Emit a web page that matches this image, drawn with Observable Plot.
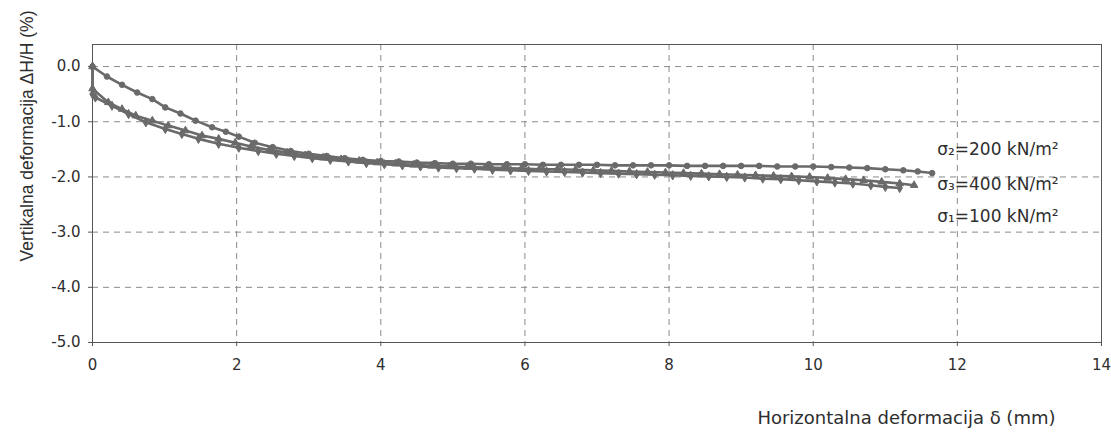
<!DOCTYPE html>
<html><head><meta charset="utf-8">
<script src="https://cdn.jsdelivr.net/npm/d3@7"></script>
<script src="https://cdn.jsdelivr.net/npm/@observablehq/plot@0.6"></script>
<style>body{margin:0;background:#fff;} #chart svg{display:block;}</style>
</head><body><div id="chart"></div>
<script>
// ---- data ----
const seriesNames = ["σ₂=200 kN/m²", "σ₃=400 kN/m²", "σ₁=100 kN/m²"];

const sigma2X = [0,0.2,0.41,0.62,0.83,1.01,1.22,1.43,1.66,1.85,2.03,2.25,2.5,2.75,3.0,3.25,3.5,3.75,4.0,4.25,4.5,4.75,5.0,5.25,5.5,5.75,6.0,6.25,6.5,6.75,7.0,7.25,7.5,7.75,8.0,8.25,8.5,8.75,9.0,9.25,9.5,9.75,10.0,10.25,10.5,10.75,11.0,11.25,11.45,11.65];
const sigma2Y = [0,-0.18,-0.33,-0.47,-0.59,-0.74,-0.85,-0.98,-1.1,-1.18,-1.27,-1.38,-1.46,-1.53,-1.58,-1.62,-1.66,-1.69,-1.71,-1.72,-1.74,-1.75,-1.76,-1.76,-1.77,-1.77,-1.77,-1.78,-1.78,-1.78,-1.78,-1.79,-1.79,-1.79,-1.79,-1.8,-1.8,-1.8,-1.8,-1.8,-1.81,-1.81,-1.81,-1.82,-1.83,-1.84,-1.86,-1.88,-1.9,-1.93];

const sigma3X = [0,0,0.22,0.41,0.6,0.83,1.05,1.29,1.52,1.75,1.98,2.2,2.45,2.7,2.95,3.2,3.45,3.7,3.95,4.2,4.45,4.7,4.95,5.2,5.45,5.7,5.95,6.2,6.45,6.7,6.95,7.2,7.45,7.7,7.95,8.2,8.45,8.7,8.95,9.2,9.45,9.7,9.95,10.2,10.45,10.7,10.95,11.2,11.4];
const sigma3Y = [0,-0.4,-0.65,-0.77,-0.89,-0.98,-1.07,-1.16,-1.25,-1.31,-1.38,-1.45,-1.51,-1.56,-1.61,-1.65,-1.68,-1.71,-1.74,-1.76,-1.78,-1.8,-1.81,-1.82,-1.83,-1.84,-1.85,-1.86,-1.86,-1.87,-1.88,-1.89,-1.9,-1.91,-1.92,-1.93,-1.94,-1.95,-1.96,-1.97,-1.98,-1.99,-2.0,-2.02,-2.04,-2.06,-2.09,-2.12,-2.15];

const sigma1X = [0,0,0.04,0.27,0.5,0.74,1.01,1.24,1.47,1.75,2.03,2.3,2.55,2.8,3.05,3.3,3.55,3.8,4.05,4.3,4.55,4.8,5.05,5.3,5.55,5.8,6.05,6.3,6.55,6.8,7.05,7.3,7.55,7.8,8.05,8.3,8.55,8.8,9.05,9.3,9.55,9.8,10.05,10.3,10.55,10.8,11.0,11.2];
const sigma1Y = [0,-0.5,-0.56,-0.71,-0.86,-1.01,-1.13,-1.22,-1.31,-1.4,-1.47,-1.53,-1.58,-1.62,-1.66,-1.69,-1.72,-1.75,-1.77,-1.79,-1.81,-1.83,-1.84,-1.85,-1.87,-1.88,-1.89,-1.9,-1.91,-1.92,-1.93,-1.94,-1.95,-1.96,-1.97,-1.98,-1.99,-2.0,-2.01,-2.03,-2.04,-2.06,-2.08,-2.1,-2.12,-2.15,-2.18,-2.2];

const xTicks = [0,2,4,6,8,10,12,14];
const yTicks = [0,-1,-2,-3,-4,-5];
const xTitle = "Horizontalna deformacija δ (mm)";
const yTitle = "Vertikalna deformacija ΔH/H (%)";

// ---- build table ----
const seriesData = [[sigma2X, sigma2Y], [sigma3X, sigma3Y], [sigma1X, sigma1Y]];
const rows = [];
seriesData.forEach(([xs, ys], k) => xs.forEach((x, i) => rows.push({series: seriesNames[k], x, y: ys[i]})));

// annotation anchors for the series labels (data coordinates)
const labelRows = [
  {text: seriesNames[0], x: 11.72, y: -1.50},
  {text: seriesNames[1], x: 11.72, y: -2.14},
  {text: seriesNames[2], x: 11.72, y: -2.72}
];

const gray = "#6a6a6a";
const chart = Plot.plot({
  width: 1111, height: 432,
  marginTop: 44, marginBottom: 90, marginLeft: 92, marginRight: 10,
  style: {fontFamily: "'DejaVu Sans', sans-serif", fontSize: "15px", color: "#2e2e2e", background: "#fff"},
  x: {domain: [0, 14], label: null},
  y: {domain: [-5, 0.4], label: null},
  symbol: {domain: seriesNames, range: ["circle", "triangle", "diamond"]},
  marks: [
    Plot.gridX(xTicks.slice(1, -1), {stroke: "#8a8a8a", strokeOpacity: 1, strokeDasharray: "6,5", strokeWidth: 1}),
    Plot.gridY(yTicks.slice(0, -1), {stroke: "#8a8a8a", strokeOpacity: 1, strokeDasharray: "6,5", strokeWidth: 1}),
    Plot.frame({stroke: "#555", strokeWidth: 1}),
    Plot.axisX(xTicks, {tickSize: 4, tickPadding: 13, stroke: "#555", tickFormat: d => String(d), label: null}),
    Plot.axisY(yTicks, {tickSize: 4, tickPadding: 8, stroke: "#555", tickFormat: d => d.toFixed(1), label: null}),
    Plot.line(rows, {x: "x", y: "y", z: "series", stroke: gray, strokeWidth: 2.6}),
    Plot.dot(rows, {x: "x", y: "y", symbol: "series", fill: gray, stroke: gray, strokeWidth: 1, r: 2.8}),
    Plot.text(labelRows, {x: "x", y: "y", text: "text", textAnchor: "start", fontSize: 17, fill: "#2e2e2e"}),
    Plot.text([xTitle], {frameAnchor: "bottom-right", dx: -46, dy: 81, textAnchor: "end", fontSize: 18, fill: "#2e2e2e"}),
    Plot.text([yTitle], {frameAnchor: "top-left", dx: -72, dy: -34, rotate: -90, textAnchor: "end", fontSize: 17.5, fontFamily: "'Liberation Sans', Arial, sans-serif", fill: "#2e2e2e"})
  ]
});
document.getElementById("chart").appendChild(chart);
</script>
</body></html>
